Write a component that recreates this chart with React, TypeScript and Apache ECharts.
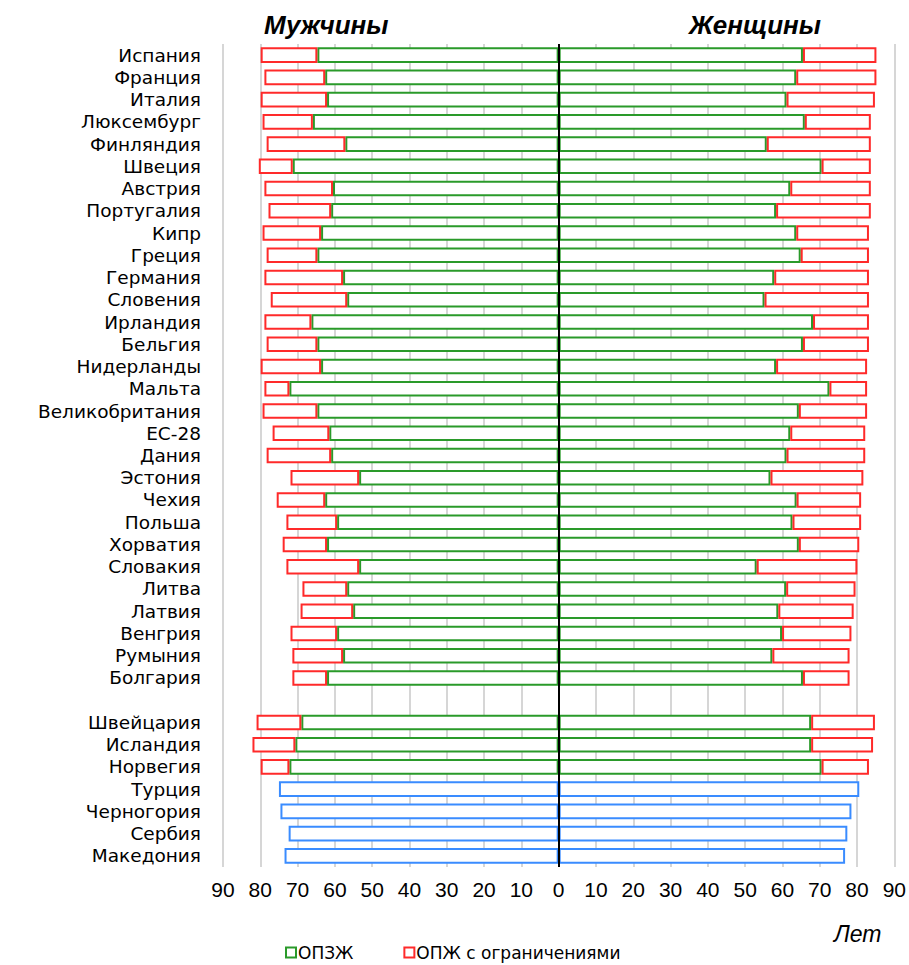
import React, { useEffect, useRef } from "react";
import * as echarts from "echarts";

const countries = [
  "Испания", "Франция", "Италия", "Люксембург", "Финляндия", "Швеция", "Австрия",
  "Португалия", "Кипр", "Греция", "Германия", "Словения", "Ирландия", "Бельгия",
  "Нидерланды", "Мальта", "Великобритания", "ЕС-28", "Дания", "Эстония", "Чехия",
  "Польша", "Хорватия", "Словакия", "Литва", "Латвия", "Венгрия", "Румыния", "Болгария",
  "",
  "Швейцария", "Исландия", "Норвегия", "Турция", "Черногория", "Сербия", "Македония",
];

// Healthy life expectancy (ОПЗЖ), men
const menHealthy: (number | null)[] = [
  64.7, 62.6, 62.1, 65.9, 57.2, 71.3, 60.5, 61.0, 63.7, 64.7,
  57.8, 56.7, 66.3, 64.7, 63.7, 72.2, 64.7, 61.5, 61.0, 53.5,
  62.6, 59.4, 62.1, 53.5, 56.7, 55.1, 59.4, 57.8, 62.1,
  null,
  69.0, 70.6, 72.2, null, null, null, null,
];
// Total life expectancy, men
const menTotal: (number | null)[] = [
  79.9, 78.9, 79.9, 79.4, 78.3, 80.4, 78.9, 77.8, 79.4, 78.3,
  78.9, 77.2, 78.9, 78.3, 79.9, 78.9, 79.4, 76.7, 78.3, 71.9,
  75.6, 73.0, 74.0, 73.0, 68.7, 69.2, 71.9, 71.4, 71.4,
  null,
  81.0, 82.1, 79.9, 75.0, 74.6, 72.4, 73.5,
];
// Healthy life expectancy (ОПЗЖ), women
const womenHealthy: (number | null)[] = [
  65.5, 63.7, 61.1, 66.0, 55.8, 70.5, 62.1, 58.3, 63.7, 64.9,
  57.8, 55.2, 68.2, 65.5, 58.3, 72.6, 64.4, 62.1, 61.1, 56.8,
  63.8, 62.7, 64.4, 53.1, 61.0, 58.9, 59.9, 57.3, 65.5,
  null,
  67.7, 67.7, 70.5, null, null, null, null,
];
// Total life expectancy, women
const womenTotal: (number | null)[] = [
  85.2, 85.2, 84.8, 83.7, 83.7, 83.7, 83.7, 83.7, 83.2, 83.2,
  83.2, 83.2, 83.2, 83.2, 82.7, 82.7, 82.7, 82.2, 82.2, 81.7,
  81.1, 81.1, 80.6, 80.1, 79.6, 79.1, 78.5, 78.0, 78.0,
  null,
  84.8, 84.3, 83.2, 80.6, 78.5, 77.4, 76.8,
];

const xTicks = [-90, -80, -70, -60, -50, -40, -30, -20, -10, 0, 10, 20, 30, 40, 50, 60, 70, 80, 90];

const GREEN = "#2a9a2a";
const RED = "#ff2a2a";
const BLUE = "#3a8cff";
const FONT = "'Liberation Sans', Arial, sans-serif";
const WIDE = "'DejaVu Sans', 'Liberation Sans', Arial, sans-serif";

export default function App() {
  const ref = useRef<HTMLDivElement>(null);

  useEffect(() => {
    if (!ref.current) return;
    const chart = echarts.init(ref.current, undefined, { renderer: "svg" });

    const neg = (v: number | null) => (v == null ? null : -v);
    const menGreen = menHealthy.map(neg);
    const menRed = menHealthy.map((h, i) =>
      h == null || menTotal[i] == null ? null : -((menTotal[i] as number) - h)
    );
    const womenGreen = womenHealthy.slice();
    const womenRed = womenHealthy.map((h, i) =>
      h == null || womenTotal[i] == null ? null : (womenTotal[i] as number) - h
    );
    const menBlue = menHealthy.map((h, i) => (h == null ? neg(menTotal[i]) : null));
    const womenBlue = womenHealthy.map((h, i) => (h == null ? womenTotal[i] : null));

    const barBase = (name: string, color: string, data: (number | null)[]) => ({
      name,
      type: "bar",
      stack: "all",
      barWidth: "70%",
      data,
      itemStyle: { color: "#ffffff", borderColor: color, borderWidth: 2 },
      emphasis: { disabled: true },
    });

    const titleStyle = { fontFamily: FONT, fontSize: 26, fontWeight: "bold", fontStyle: "italic", color: "#000" };

    const option: any = {
      animation: false,
      backgroundColor: "#ffffff",
      title: [
        { text: "Мужчины", left: 264, top: 12, padding: 0, textStyle: titleStyle },
        { text: "Женщины", left: 689, top: 12, padding: 0, textStyle: titleStyle },
        {
          text: "Лет",
          left: 834,
          top: 922,
          padding: 0,
          textStyle: { fontFamily: FONT, fontSize: 23, fontWeight: "normal", fontStyle: "italic", color: "#000" },
        },
      ],
      legend: {
        data: ["ОПЗЖ", "ОПЖ с ограничениями"],
        left: 285,
        top: 944,
        padding: 0,
        itemWidth: 10,
        itemHeight: 10,
        itemGap: 50,
        icon: "rect",
        selectedMode: false,
        textStyle: { fontFamily: WIDE, fontSize: 17, color: "#000", padding: [0, 0, 0, -3] },
      },
      grid: { left: 223, right: 14, top: 44, bottom: 98, containLabel: false },
      xAxis: {
        type: "value",
        min: xTicks[0],
        max: xTicks[xTicks.length - 1],
        interval: 10,
        axisLine: { show: false },
        axisTick: { show: false },
        splitLine: { show: true, lineStyle: { color: "#c8c8c8", width: 1.5 } },
        axisLabel: {
          margin: 12,
          fontFamily: FONT,
          fontSize: 21,
          color: "#000",
          formatter: (v: number) => String(Math.abs(v)),
        },
      },
      yAxis: {
        type: "category",
        inverse: true,
        data: countries,
        axisLine: { show: false },
        axisTick: { show: false },
        splitLine: { show: false },
        axisLabel: {
          margin: 22,
          fontFamily: WIDE,
          fontSize: 18.5,
          color: "#000",
          interval: 0,
        },
      },
      series: [
        {
          ...barBase("ОПЗЖ", GREEN, menGreen),
          markLine: {
            silent: true,
            symbol: ["none", "none"],
            label: { show: false },
            lineStyle: { color: "#000", width: 2, type: "solid" },
            data: [{ xAxis: 0 }],
            z: 10,
          },
        },
        barBase("ОПЖ с ограничениями", RED, menRed),
        barBase("ОПЗЖ", GREEN, womenGreen),
        barBase("ОПЖ с ограничениями", RED, womenRed),
        barBase("ОПЖ", BLUE, menBlue),
        barBase("ОПЖ", BLUE, womenBlue),
      ],
    };

    chart.setOption(option);
    return () => chart.dispose();
  }, []);

  return (
    <div
      ref={ref}
      style={{ position: "fixed", left: 0, top: 0, width: 909, height: 965, background: "#fff" }}
    />
  );
}
